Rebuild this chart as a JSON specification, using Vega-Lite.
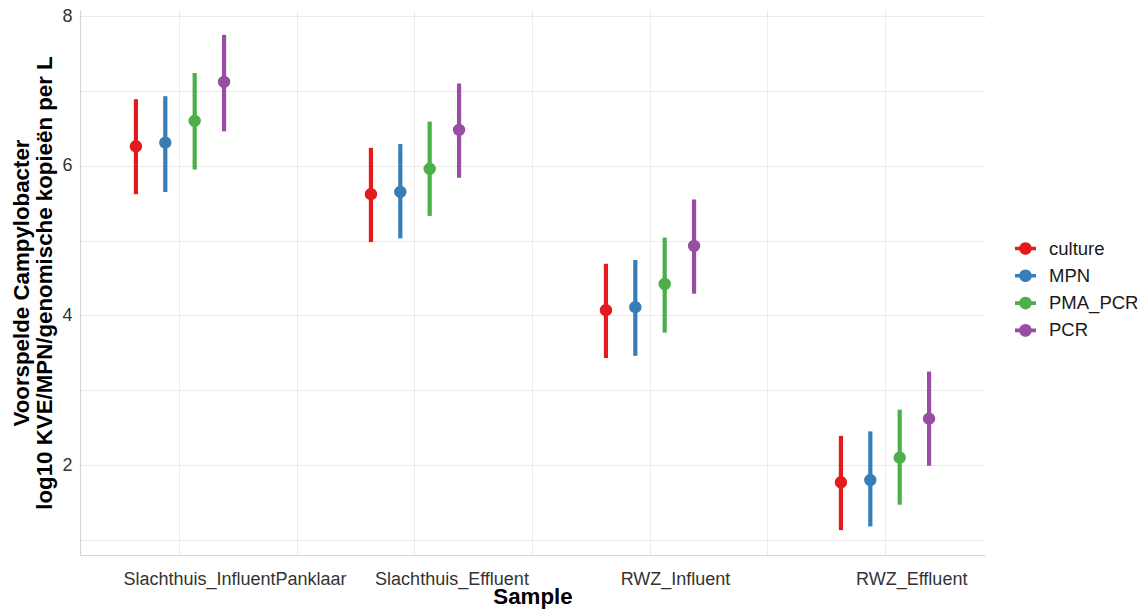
{
  "$schema": "https://vega.github.io/schema/vega-lite/v6.json",
  "width": 905,
  "height": 545,
  "autosize": {"type": "none"},
  "padding": {"left": 80, "top": 10, "right": 158, "bottom": 56},
  "background": "white",
  "config": {"view": {"stroke": null}, "font": "Liberation Sans"},
  "data": {
    "values": [
      {"Sample": "Slachthuis_InfluentPanklaar", "Method": "culture", "value": 6.26, "lo": 5.62, "hi": 6.89},
      {"Sample": "Slachthuis_InfluentPanklaar", "Method": "MPN", "value": 6.31, "lo": 5.65, "hi": 6.93},
      {"Sample": "Slachthuis_InfluentPanklaar", "Method": "PMA_PCR", "value": 6.60, "lo": 5.95, "hi": 7.24},
      {"Sample": "Slachthuis_InfluentPanklaar", "Method": "PCR", "value": 7.12, "lo": 6.46, "hi": 7.75},
      {"Sample": "Slachthuis_Effluent", "Method": "culture", "value": 5.62, "lo": 4.98, "hi": 6.24},
      {"Sample": "Slachthuis_Effluent", "Method": "MPN", "value": 5.65, "lo": 5.03, "hi": 6.29},
      {"Sample": "Slachthuis_Effluent", "Method": "PMA_PCR", "value": 5.96, "lo": 5.33, "hi": 6.59},
      {"Sample": "Slachthuis_Effluent", "Method": "PCR", "value": 6.48, "lo": 5.84, "hi": 7.10},
      {"Sample": "RWZ_Influent", "Method": "culture", "value": 4.07, "lo": 3.43, "hi": 4.69},
      {"Sample": "RWZ_Influent", "Method": "MPN", "value": 4.11, "lo": 3.46, "hi": 4.74},
      {"Sample": "RWZ_Influent", "Method": "PMA_PCR", "value": 4.42, "lo": 3.77, "hi": 5.04},
      {"Sample": "RWZ_Influent", "Method": "PCR", "value": 4.93, "lo": 4.29, "hi": 5.55},
      {"Sample": "RWZ_Effluent", "Method": "culture", "value": 1.77, "lo": 1.13, "hi": 2.39},
      {"Sample": "RWZ_Effluent", "Method": "MPN", "value": 1.80, "lo": 1.18, "hi": 2.45},
      {"Sample": "RWZ_Effluent", "Method": "PMA_PCR", "value": 2.10, "lo": 1.47, "hi": 2.74},
      {"Sample": "RWZ_Effluent", "Method": "PCR", "value": 2.62, "lo": 1.99, "hi": 3.25}
    ]
  },
  "encoding": {
    "xOffset": {
      "field": "Method", "type": "nominal",
      "sort": ["culture", "MPN", "PMA_PCR", "PCR"],
      "scale": {"paddingInner": 0, "paddingOuter": 0}
    },
    "color": {
      "field": "Method", "type": "nominal",
      "sort": ["culture", "MPN", "PMA_PCR", "PCR"],
      "scale": {
        "domain": ["culture", "MPN", "PMA_PCR", "PCR"],
        "range": ["#E41A1C", "#377EB8", "#4DAF4A", "#984EA3"]
      },
      "legend": {
        "title": null,
        "orient": "none",
        "legendX": 935,
        "legendY": 228,
        "padding": 0,
        "symbolType": "M-1,-0.17L1,-0.17L1,0.17L-1,0.17Z M-0.6,0A0.6,0.6,0,1,1,0.6,0A0.6,0.6,0,1,1,-0.6,0Z",
        "symbolSize": 441,
        "symbolStrokeWidth": 0,
        "symbolOpacity": 1,
        "labelFontSize": 18.5,
        "labelFont": "Liberation Sans",
        "labelColor": "#1a1a1a",
        "labelOffset": 13,
        "rowPadding": 7.3
      }
    }
  },
  "layer": [
    {
      "mark": {"type": "point", "filled": true, "size": 154, "opacity": 1},
      "encoding": {
        "x": {
          "field": "Sample", "type": "nominal",
          "sort": ["Slachthuis_InfluentPanklaar", "Slachthuis_Effluent", "RWZ_Influent", "RWZ_Effluent"],
          "scale": {"paddingInner": 0.5, "paddingOuter": 0.1755},
          "axis": {
            "title": "Sample",
            "titleFontSize": 22.3,
            "titleFontWeight": "bold",
            "titleColor": "#000000",
            "titleBaseline": "alphabetic",
            "titleY": 48.5,
            "labelAngle": 0,
            "labelFontSize": 18,
            "labelLimit": 0,
            "labelColor": "#333333",
            "labelBaseline": "alphabetic",
            "labelPadding": 29,
            "labelOffset": {
              "condition": [
                {"test": "datum.value === 'Slachthuis_InfluentPanklaar'", "value": 55},
                {"test": "datum.value === 'Slachthuis_Effluent'", "value": 37},
                {"test": "datum.value === 'RWZ_Influent'", "value": 25.5}
              ],
              "value": 26.7
            },
            "ticks": false,
            "domain": true,
            "domainColor": "#d6d6d6",
            "domainWidth": 1.2,
            "grid": true,
            "gridColor": "#ebebeb",
            "gridWidth": 1,
            "tickBand": "center"
          }
        },
        "y": {
          "field": "value", "type": "quantitative",
          "scale": {"domain": [0.798, 8.082], "nice": false, "zero": false},
          "axis": {
            "title": ["Voorspelde Campylobacter", "log10 KVE/MPN/genomische kopieën per L"],
            "titleFontSize": 22.3,
            "titleFontWeight": "bold",
            "titleColor": "#000000",
            "titleAngle": 270,
            "titleAlign": "center",
            "titleBaseline": "alphabetic",
            "titleX": -51.5,
            "titleY": 272.5,
            "titleLineHeight": 23.3,
            "values": [1, 2, 3, 4, 5, 6, 7, 8],
            "labelExpr": "datum.value % 2 === 0 ? datum.label : ''",
            "labelFontSize": 18,
            "labelColor": "#333333",
            "labelPadding": 8,
            "ticks": false,
            "domain": true,
            "domainColor": "#d6d6d6",
            "domainWidth": 1.2,
            "grid": true,
            "gridColor": "#ebebeb",
            "gridWidth": 1
          }
        }
      }
    },
    {
      "mark": {"type": "rule", "strokeWidth": 4.2},
      "encoding": {
        "x": {
          "field": "Sample", "type": "nominal",
          "sort": ["Slachthuis_InfluentPanklaar", "Slachthuis_Effluent", "RWZ_Influent", "RWZ_Effluent"],
          "axis": {
            "orient": "top",
            "title": null,
            "labels": false,
            "ticks": false,
            "domain": false,
            "grid": true,
            "gridColor": "#ebebeb",
            "gridWidth": 1,
            "values": ["Slachthuis_InfluentPanklaar", "Slachthuis_Effluent", "RWZ_Influent"],
            "bandPosition": 1.5
          }
        },
        "y": {
          "field": "lo", "type": "quantitative",
          "axis": {
            "title": ["Voorspelde Campylobacter", "log10 KVE/MPN/genomische kopieën per L"],
            "titleFontSize": 22.3,
            "titleFontWeight": "bold",
            "titleColor": "#000000",
            "titleAngle": 270,
            "titleAlign": "center",
            "titleBaseline": "alphabetic",
            "titleX": -51.5,
            "titleY": 272.5,
            "titleLineHeight": 23.3,
            "values": [1, 2, 3, 4, 5, 6, 7, 8],
            "labelExpr": "datum.value % 2 === 0 ? datum.label : ''",
            "labelFontSize": 18,
            "labelColor": "#333333",
            "labelPadding": 8,
            "ticks": false,
            "domain": true,
            "domainColor": "#d6d6d6",
            "domainWidth": 1.2,
            "grid": true,
            "gridColor": "#ebebeb",
            "gridWidth": 1
          }
        },
        "y2": {"field": "hi"}
      }
    }
  ],
  "resolve": {"axis": {"x": "independent"}}
}
